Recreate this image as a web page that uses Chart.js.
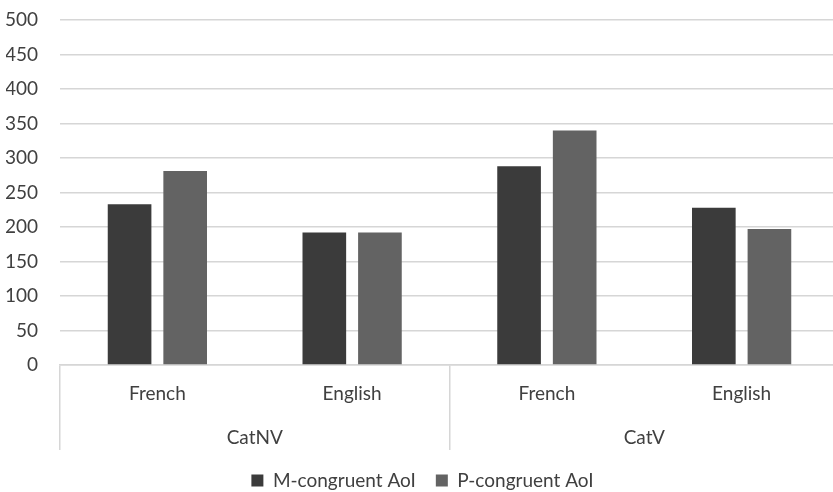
<!DOCTYPE html>
<html lang="en">
<head>
  <meta charset="UTF-8" />
  <title>AoI chart</title>
  <script src="https://cdn.jsdelivr.net/npm/chart.js"></script>
  <style>
    html, body {
      margin: 0;
      padding: 0;
      background: #fff;
      overflow: hidden;
    }
    #wrap {
      width: 864px;
      height: 492px;
    }
  </style>
</head>
<body>
  <div id="wrap"><canvas id="chart" width="864" height="492"></canvas></div>

  <script>
    // data
    const languages = ['French', 'English', 'French', 'English'];
    const groups = ['CatNV', 'CatV'];
    const mCongruent = [233, 192, 288, 228];
    const pCongruent = [281, 192, 340, 197];
    const yTicks = [0, 50, 100, 150, 200, 250, 300, 350, 400, 450, 500];

    const font = { family: "Lato, 'Open Sans', sans-serif", size: 19 };
    const textColor = '#404040';
    const lineColor = '#d6d6d6';

    new Chart(document.getElementById('chart'), {
      type: 'bar',
      data: {
        labels: languages,
        datasets: [
          { label: 'M-congruent AoI', data: mCongruent, backgroundColor: '#3b3b3b' },
          { label: 'P-congruent AoI', data: pCongruent, backgroundColor: '#636363' }
        ]
      },
      options: {
        responsive: false,
        animation: false,
        categoryPercentage: 0.571,
        barPercentage: 0.785,
        layout: { padding: { top: 20, right: 25, left: 6, bottom: -8 } },
        plugins: {
          tooltip: { enabled: false },
          legend: {
            position: 'bottom',
            labels: {
              font: font,
              color: textColor,
              boxWidth: 12,
              boxHeight: 12,
              padding: 20
            }
          }
        },
        scales: {
          y: {
            min: 0,
            max: 500,
            afterBuildTicks: s => { s.ticks = yTicks.map(v => ({ value: v })); },
            afterFit: s => { s.width = 54; s.paddingTop = 8; s.paddingBottom = 8; },
            ticks: { font: font, color: textColor, padding: 22 },
            grid: { color: lineColor, lineWidth: 1.5, drawTicks: false },
            border: { display: false }
          },
          x: {
            type: 'category',
            weight: 0,
            afterFit: s => { s.height = 40; },
            ticks: { font: font, color: textColor, padding: -68, autoSkip: false },
            grid: {
              offset: true,
              drawOnChartArea: false,
              drawTicks: true,
              tickLength: 85,
              lineWidth: 1.5,
              color: ctx => ((ctx.index ?? 4) % 2 === 0 ? lineColor : 'rgba(0,0,0,0)')
            },
            border: { display: true, color: lineColor, width: 1.5 }
          },
          x2: {
            type: 'category',
            position: 'bottom',
            weight: 1,
            labels: groups,
            offset: true,
            afterFit: s => { s.height = 46; },
            ticks: { font: font, color: textColor, padding: 21 },
            grid: { display: false, drawTicks: false },
            border: { display: false }
          }
        }
      }
    });
  </script>
</body>
</html>
